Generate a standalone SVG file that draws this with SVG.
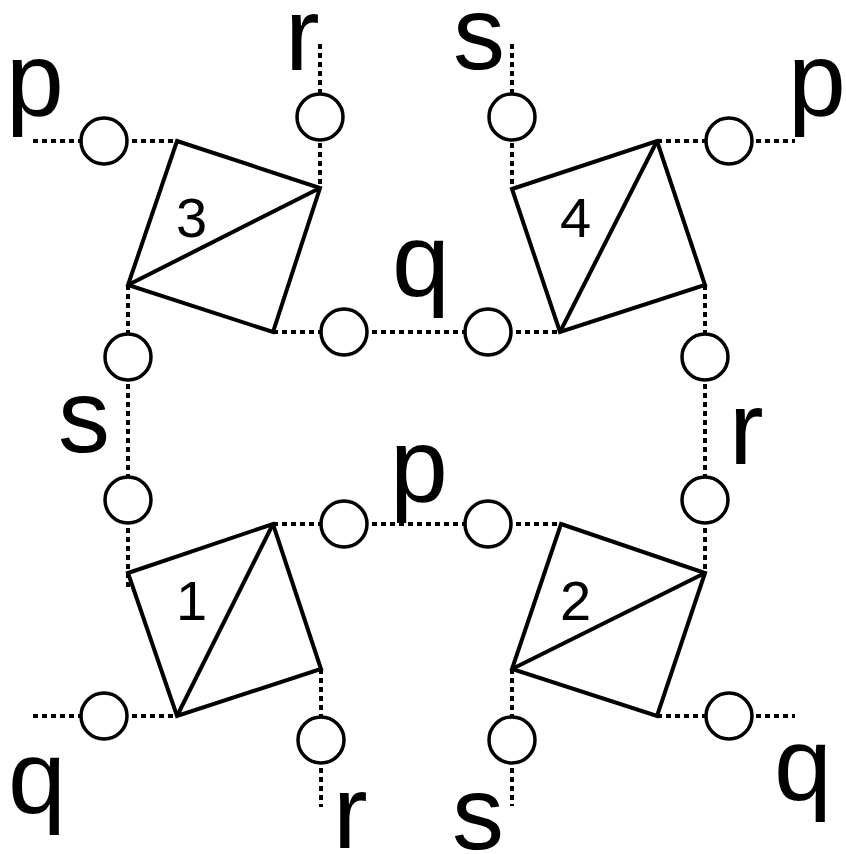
<svg xmlns="http://www.w3.org/2000/svg" width="846" height="854" viewBox="0 0 846 854">
<style>
.dot{stroke:#000;stroke-width:4;stroke-dasharray:5 4;fill:none}
.sq{stroke:#000;stroke-width:4;fill:none;stroke-linejoin:miter}
.c{stroke:#000;stroke-width:3.5;fill:#fff}
.lbl{font-family:"Liberation Sans",Arial,sans-serif;font-size:104px;fill:#000}
.num{font-family:"Liberation Sans",Arial,sans-serif;font-size:56px;fill:#000}
</style>
<rect width="846" height="854" fill="#fff"/>
<g id="connectors">
<line class="dot" x1="33" y1="141" x2="177" y2="141"/>
<line class="dot" x1="320" y1="44" x2="320" y2="188"/>
<line class="dot" x1="273" y1="332" x2="561" y2="332"/>
<line class="dot" x1="128" y1="285" x2="128" y2="590"/>
<line class="dot" x1="512" y1="44" x2="512" y2="189"/>
<line class="dot" x1="657" y1="141" x2="795" y2="141"/>
<line class="dot" x1="705" y1="285" x2="705" y2="573"/>
<line class="dot" x1="273" y1="524" x2="561" y2="524"/>
<line class="dot" x1="33" y1="716" x2="177" y2="716"/>
<line class="dot" x1="321" y1="669" x2="321" y2="807"/>
<line class="dot" x1="512" y1="669" x2="512" y2="806"/>
<line class="dot" x1="657" y1="716" x2="795" y2="716"/>
</g>
<g id="circles">
<circle class="c" cx="104" cy="141" r="23"/>
<circle class="c" cx="320" cy="117" r="23"/>
<circle class="c" cx="344" cy="332" r="23"/>
<circle class="c" cx="128" cy="357" r="23"/>
<circle class="c" cx="512" cy="117" r="23"/>
<circle class="c" cx="729" cy="141" r="23"/>
<circle class="c" cx="488" cy="332" r="23"/>
<circle class="c" cx="705" cy="357" r="23"/>
<circle class="c" cx="128" cy="500" r="23"/>
<circle class="c" cx="344" cy="524" r="23"/>
<circle class="c" cx="104" cy="716" r="23"/>
<circle class="c" cx="321" cy="740" r="23"/>
<circle class="c" cx="705" cy="500" r="23"/>
<circle class="c" cx="488" cy="524" r="23"/>
<circle class="c" cx="729" cy="716" r="23"/>
<circle class="c" cx="512" cy="740" r="23"/>
</g>
<g id="node3">
<polygon class="sq" points="177,141 320,188 273,332 128,285"/>
<line class="sq" x1="128" y1="285" x2="320" y2="188"/>
<text class="num" x="176" y="237">3</text>
</g>
<g id="node4">
<polygon class="sq" points="512,189 657,141 705,285 560,332"/>
<line class="sq" x1="560" y1="332" x2="657" y2="141"/>
<text class="num" x="560" y="237">4</text>
</g>
<g id="node1">
<polygon class="sq" points="128,573 273,524 321,669 177,716"/>
<line class="sq" x1="177" y1="716" x2="273" y2="524"/>
<text class="num" x="176" y="620">1</text>
</g>
<g id="node2">
<polygon class="sq" points="561,524 705,573 657,716 512,669"/>
<line class="sq" x1="512" y1="669" x2="705" y2="573"/>
<text class="num" x="560" y="620">2</text>
</g>
<g id="labels">
<text class="lbl" x="6" y="115">p</text>
<text class="lbl" x="285" y="70">r</text>
<text class="lbl" x="453" y="69">s</text>
<text class="lbl" x="788" y="115">p</text>
<text class="lbl" x="392" y="296">q</text>
<text class="lbl" x="58" y="452">s</text>
<text class="lbl" x="729" y="464">r</text>
<text class="lbl" x="390" y="501">p</text>
<text class="lbl" x="8" y="813">q</text>
<text class="lbl" x="333" y="848">r</text>
<text class="lbl" x="452" y="849">s</text>
<text class="lbl" x="774" y="800">q</text>
</g>
</svg>
